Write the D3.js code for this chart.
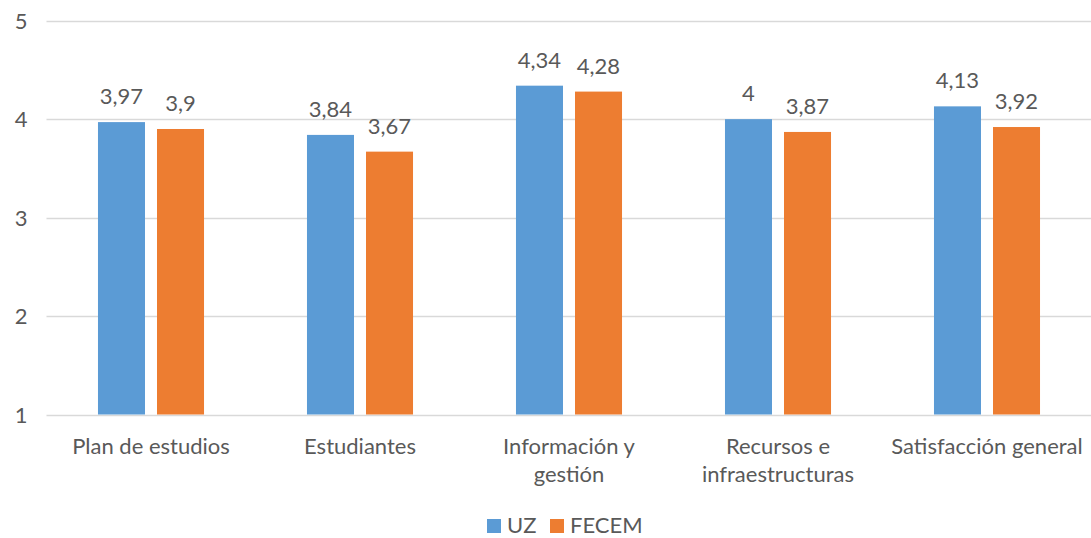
<!DOCTYPE html>
<html><head><meta charset="utf-8">
<script src="https://cdn.jsdelivr.net/npm/d3@7"></script>
<style>
html,body{margin:0;padding:0;background:#fff;}
svg text{font-family:"Lato","Open Sans",sans-serif;fill:#595959;}
</style></head>
<body><svg id="c" width="1091" height="538"></svg>
<script>
const categories = [["Plan de estudios"],["Estudiantes"],["Información y","gestión"],["Recursos e","infraestructuras"],["Satisfacción general"]];
const seriesNames = ["UZ","FECEM"];
const uzValues = [3.97,3.84,4.34,4.00,4.13];
const fecemValues = [3.9,3.67,4.28,3.87,3.92];
const yTicks = [1,2,3,4,5];
const colors = ["#5B9BD5","#ED7D31"];

const fmt = v => String(+v.toFixed(2)).replace(".", ",");
const svg = d3.select("#c");
const fs = 22;
const y = d3.scaleLinear().domain([1,5]).range([414.5,20.7]);
const x0 = d3.scaleBand().domain(d3.range(categories.length)).range([46.5,1091.5]).paddingInner(0).paddingOuter(0);
const bw = x0.bandwidth()*0.225, gap = 12;

// grid
svg.append("g").selectAll("line").data(yTicks).join("line")
  .attr("x1",46.5).attr("x2",1091).attr("y1",d=>Math.round(y(d))+0.5).attr("y2",d=>Math.round(y(d))+0.5)
  .attr("stroke","#D9D9D9").attr("stroke-width",1.5);
// y axis labels
const yAxis = d3.axisLeft(y).tickValues(yTicks).tickSize(0).tickPadding(0).tickFormat(d=>d);
const ya = svg.append("g").attr("transform","translate(21,0)").call(yAxis);
ya.select(".domain").remove();
ya.selectAll("text").attr("font-size",fs).attr("text-anchor","middle").attr("dy","0.35em").attr("font-family",null).style("fill","#595959");

const series = [uzValues, fecemValues];
series.forEach((vals,si)=>{
  const g = svg.append("g");
  const xs = i => x0(i)+x0.bandwidth()/2 + (si===0 ? -gap/2-bw : gap/2);
  g.selectAll("rect").data(vals).join("rect")
    .attr("x",(d,i)=>xs(i)).attr("width",bw)
    .attr("y",d=>y(d)).attr("height",d=>y(1)-y(d)).attr("fill",colors[si]);
  g.selectAll("text").data(vals).join("text")
    .attr("x",(d,i)=>xs(i)+bw/2).attr("y",d=>y(d)-18)
    .attr("text-anchor","middle").attr("font-size",fs).text(d=>fmt(d));
});

// x axis labels
const xAxis = d3.axisBottom(x0).tickSize(0).tickFormat("");
const xa = svg.append("g").attr("transform",`translate(0,${y(1)})`).call(xAxis);
xa.select(".domain").remove();
categories.forEach((lines,i)=>{
  const t = svg.append("text").attr("x",x0(i)+x0.bandwidth()/2).attr("y",454).attr("text-anchor","middle").attr("font-size",fs);
  lines.forEach((l,j)=>t.append("tspan").attr("x",x0(i)+x0.bandwidth()/2).attr("dy",j?28:0).text(l));
});

// legend
const lg = svg.append("g");
const lx = [487,550];
seriesNames.forEach((n,i)=>{
  lg.append("rect").attr("x",lx[i]).attr("y",519).attr("width",14).attr("height",14).attr("fill",colors[i]);
  lg.append("text").attr("x",lx[i]+20).attr("y",533).attr("font-size",fs).text(n);
});
</script></body></html>
